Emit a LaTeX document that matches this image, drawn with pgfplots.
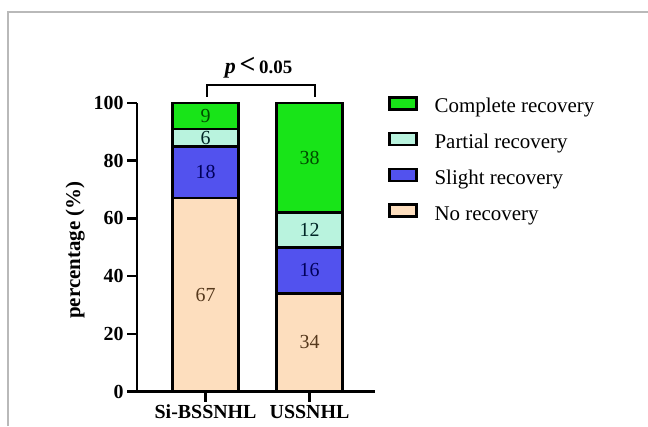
\documentclass[border=0pt]{standalone}
\usepackage{fontspec}
\setmainfont{Liberation Serif}
\usepackage{pgfplots}
\pgfplotsset{compat=1.18}
\definecolor{cgreen}{RGB}{24,228,24}
\definecolor{cpart}{RGB}{185,243,222}
\definecolor{cslight}{RGB}{82,82,238}
\definecolor{cno}{RGB}{253,222,190}
\definecolor{frame}{RGB}{185,185,185}
\pgfplotsset{
  centered nodes/.style={
    nodes near coords,
    every node near coord/.append style={anchor=center,
      font=\fontsize{20}{20}\selectfont}
  },
  mylegend/.style={legend image code/.code={\draw[##1, line width=2.4bp] (0bp,-1bp) rectangle (27bp,11bp);}}
}
\begin{document}
\begin{tikzpicture}[x=1bp,y=1bp]
\useasboundingbox (0,0) rectangle (648,426);
\draw[line width=1.6bp, color=frame] (8,0) -- (8,414) -- (648,414);
\begin{axis}[
  at={(137bp,34.5bp)}, anchor=south west,
  scale only axis, width=238bp, height=288.5bp,
  xmin=-0.66, xmax=1.63, ymin=0, ymax=100,
  axis lines*=left,
  axis line style={line width=2.5bp, black},
  ytick={0,20,...,100}, xtick={0,1}, xticklabels={Si-BSSNHL,USSNHL},
  tick style={line width=2.5bp, black}, tick align=outside, major tick length=10bp,
  ticklabel style={font=\fontsize{20}{20}\selectfont\bfseries},
  /pgf/number format/assume math mode=true,
  ylabel={percentage (\%)},
  ylabel style={font=\fontsize{21}{21}\selectfont\bfseries, at={(axis description cs:-0.26,0.49)}, anchor=center},
  ybar stacked, bar width=66bp, clip=false,
  legend style={at={(1.042,1.031)}, anchor=north west, draw=none, fill=none,
    font=\fontsize{21}{21}\selectfont,
    nodes={inner sep=0pt, text height=14bp, text depth=5bp},
    row sep=14bp,
    /tikz/every odd column/.append style={column sep=17bp}},
  legend cell align=left, reverse legend,
]
\addplot[fill=cno, draw=black, line width=2.5bp, mylegend, centered nodes,
  every node near coord/.append style={text=brown!45!black}]
  coordinates {(0,67) (1,34)};
\addplot[fill=cslight, draw=black, line width=2.5bp, mylegend, centered nodes,
  every node near coord/.append style={text=blue!35!black}]
  coordinates {(0,18) (1,16)};
\addplot[fill=cpart, draw=black, line width=2.5bp, mylegend, centered nodes,
  every node near coord/.append style={text=teal!30!black}]
  coordinates {(0,6) (1,12)};
\addplot[fill=cgreen, draw=black, line width=2.5bp, mylegend, centered nodes,
  every node near coord/.append style={text=green!30!black}]
  coordinates {(0,9) (1,38)};
\legend{No recovery, Slight recovery, Partial recovery, Complete recovery}
\draw[line width=2bp, black] (axis cs:0.014,102.1) -- (axis cs:0.014,106.2) -- (axis cs:1.053,106.2) -- (axis cs:1.053,102.1);
\node[inner sep=0pt, font=\fontsize{22}{22}\selectfont] at (axis cs:0.51,112.3) {\textbf{\textit{p}}\,{\fontsize{28}{28}\selectfont\textbf{<}}\,{\fontsize{19}{19}\selectfont\textbf{0.05}}};
\end{axis}
\end{tikzpicture}
\end{document}
